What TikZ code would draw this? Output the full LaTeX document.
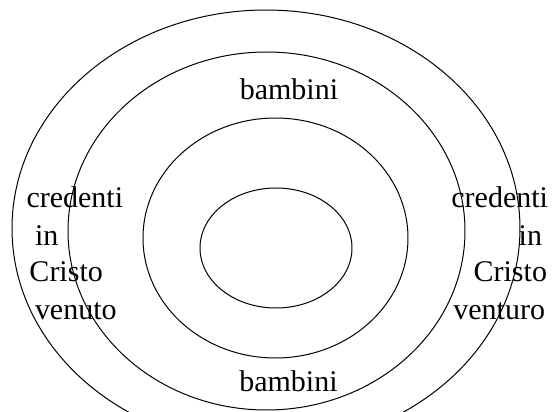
\documentclass[tikz,border=0pt]{standalone}
\usepackage{fontspec}
\setmainfont{Liberation Serif}
\usetikzlibrary{positioning}

\begin{document}
\begin{tikzpicture}[x=0.5pt, y=-0.5pt, line width=0.5pt,
	   txt/.style={inner sep=0pt, font=\fontsize{15}{18}\selectfont}]
	  \clip (0,0) rectangle (554,412);
	  % rings
	  \draw (266,228.4) ellipse [x radius=127pt, y radius=109.2pt];
	  \draw (266.5,231) ellipse [x radius=99.25pt, y radius=89.5pt];
	  \draw (275.5,238) ellipse [x radius=66.25pt, y radius=60pt];
	  \draw (276,248) ellipse [x radius=38pt, y radius=30pt];
	  % labels
	  \node[txt, anchor=base] (top) at (289,99) {bambini};
	  \node[txt, anchor=base] (bottom) at (288.5,392) {bambini};
	  \node[txt, anchor=base west] (l1) at (26,208) {credenti};
	  \node[txt, anchor=base west] (l2) at (34.5,246) {in};
	  \node[txt, anchor=base west] (l3) at (29,282) {Cristo};
	  \node[txt, anchor=base west] (l4) at (34.5,320) {venuto};
	  \node[txt, anchor=base east] (r1) at (548.5,208) {credenti};
	  \node[txt, anchor=base east] (r2) at (542.5,246) {in};
	  \node[txt, anchor=base east] (r3) at (547.5,282) {Cristo};
	  \node[txt, anchor=base east] (r4) at (545.5,320) {venturo};
	\end{tikzpicture}
\end{document}
